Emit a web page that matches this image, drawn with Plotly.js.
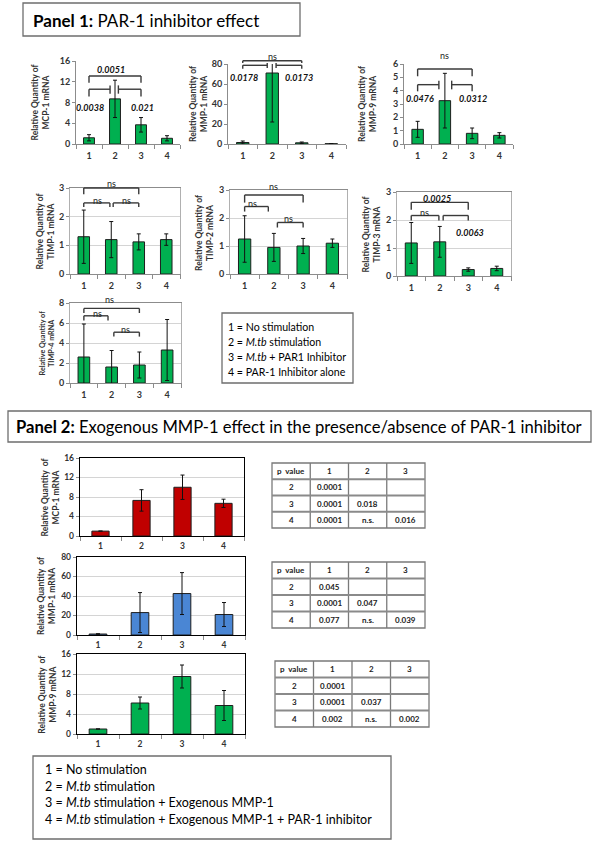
<!DOCTYPE html>
<html><head><meta charset="utf-8">
<script src="https://cdn.plot.ly/plotly-3.0.1.min.js"></script>
<style>html,body{margin:0;padding:0;background:#fff;}#chart{width:601px;height:843px;}</style>
</head><body><div id="chart"></div>
<script>
// ---------------- DATA ----------------
const categories = ['1', '2', '3', '4'];

// Panel 1
const p1_mcp1 = [1.2, 8.7, 3.7, 1.1];
const p1_mcp1_err = [0.6, 3.6, 1.4, 0.5];
const p1_mmp1 = [1.5, 71, 1.2, 0.3];
const p1_mmp1_err = [1.5, 49, 0.8, 0.2];
const p1_mmp9 = [1.1, 3.25, 0.8, 0.65];
const p1_mmp9_err = [0.6, 2.05, 0.4, 0.2];
const p1_timp1 = [1.3, 1.2, 1.12, 1.2];
const p1_timp1_err = [0.93, 0.63, 0.28, 0.2];
const p1_timp2 = [1.25, 0.95, 1.0, 1.1];
const p1_timp2_err = [0.83, 0.5, 0.27, 0.15];
const p1_timp3 = [1.18, 1.22, 0.23, 0.27];
const p1_timp3_err = [0.73, 0.55, 0.06, 0.08];
const p1_timp4 = [2.6, 1.6, 1.8, 3.3];
const p1_timp4_err = [3.3, 1.65, 1.3, 3.05];

// Panel 2
const p2_mcp1 = [1.0, 7.3, 10.0, 6.7];
const p2_mcp1_err = [0, 2.2, 2.5, 0.85];
const p2_mmp1 = [1.0, 23, 42.5, 21];
const p2_mmp1_err = [0.3, 20.5, 21.5, 12.3];
const p2_mmp9 = [1.0, 6.2, 11.5, 5.7];
const p2_mmp9_err = [0, 1.2, 2.3, 3.0];

// comparison brackets: [x0, x1, y, leftLow, leftHigh, rightLow, rightHigh]
const p1_mcp1_brackets = [[1, 3, 13.1, 11.8, 13.1, 11.8, 13.1], [1, 1.81, 10.56, 9.15, 10.56, 9.7, 11.3], [2.13, 3, 10.56, 9.7, 11.3, 9.15, 10.56]];
const p1_mcp1_labels = [['0.0051', 1.83, 14.4, 'p'], ['0.0038', 1.04, 7.05, 'p'], ['0.021', 3.05, 7.05, 'p']];
const p1_mmp1_brackets = [[1, 3, 83.3, 81, 83.3, 81, 83.3], [1, 1.83, 78.7, 75.3, 78.7, 76, 81], [2.13, 3, 78.7, 76, 81, 75.3, 78.7]];
const p1_mmp1_labels = [['ns', 2, 87, 'n'], ['0.0178', 1.04, 66.7, 'p'], ['0.0173', 2.9, 66.7, 'p']];
const p1_mmp9_brackets = [[1, 3, 5.63, 5.08, 5.63, 5.08, 5.63], [1, 1.78, 4.45, 3.95, 4.45, 4.1, 4.75], [2.25, 3, 4.45, 4.1, 4.75, 3.95, 4.45]];
const p1_mmp9_labels = [['ns', 2, 6.6, 'n'], ['0.0476', 1.09, 3.38, 'p'], ['0.0312', 3.04, 3.38, 'p']];
const p1_timp1_brackets = [[1, 3, 3.0, 2.78, 3.0, 2.78, 3.0], [1, 1.95, 2.48, 2.34, 2.48, 2.34, 2.48], [2.07, 3, 2.48, 2.34, 2.48, 2.34, 2.48]];
const p1_timp1_labels = [['ns', 2, 3.17, 'n'], ['ns', 1.49, 2.57, 'n'], ['ns', 2.56, 2.57, 'n']];
const p1_timp2_brackets = [[1, 3, 2.82, 2.55, 2.82, 2.55, 2.82], [1, 1.81, 2.41, 2.23, 2.41, 2.23, 2.41], [2.12, 3, 1.84, 1.66, 1.84, 1.66, 1.84]];
const p1_timp2_labels = [['ns', 1.99, 3.12, 'n'], ['ns', 1.26, 2.53, 'n'], ['ns', 2.49, 1.97, 'n']];
const p1_timp3_brackets = [[1, 3, 2.63, 2.37, 2.63, 2.37, 2.63], [1, 1.97, 2.16, 1.98, 2.16, 1.98, 2.16], [2.12, 3, 2.16, 1.98, 2.16, 1.98, 2.16]];
const p1_timp3_labels = [['0.0025', 1.89, 2.75, 'p'], ['ns', 1.48, 2.28, 'n'], ['0.0063', 3.05, 1.55, 'p']];
const p1_timp4_brackets = [[1, 3, 7.46, 7.0, 7.46, 7.0, 7.46], [1, 1.87, 6.72, 6.25, 6.72, 6.25, 6.72], [2.08, 3, 5.08, 4.64, 5.08, 4.64, 5.08]];
const p1_timp4_labels = [['ns', 1.93, 8.34, 'n'], ['ns', 1.49, 6.99, 'n'], ['ns', 2.51, 5.38, 'n']];

// p-value tables (columns)
const tableHeader = ['p  value', '1', '2', '3'];
const t1_rows = ['2', '3', '4'];
const t1_c1 = ['0.0001', '0.0001', '0.0001'];
const t1_c2 = ['', '0.018', 'n.s.'];
const t1_c3 = ['', '', '0.016'];
const t2_rows = ['2', '3', '4'];
const t2_c1 = ['0.045', '0.0001', '0.077'];
const t2_c2 = ['', '0.047', 'n.s.'];
const t2_c3 = ['', '', '0.039'];
const t3_rows = ['2', '3', '4'];
const t3_c1 = ['0.0001', '0.0001', '0.002'];
const t3_c2 = ['', '0.037', 'n.s.'];
const t3_c3 = ['', '', '0.002'];

const legend1 = ['1 = No stimulation', '2 = <i>M.tb</i> stimulation', '3 = <i>M.tb</i> + PAR1 Inhibitor', '4 = PAR-1 Inhibitor alone'];
const legend2 = ['1 = No stimulation', '2 = <i>M.tb</i> stimulation', '3 = <i>M.tb</i> stimulation + Exogenous MMP-1', '4 = <i>M.tb</i> stimulation + Exogenous MMP-1 + PAR-1 inhibitor'];

// ---------------- LAYOUT / STYLE ----------------
const W = 601, H = 843;
const FONT = 'Lato, "Liberation Sans", sans-serif';
const GREEN = '#00b050', RED = '#c00000', BLUE = '#4a86d4';

const charts = [
  {vals: p1_mcp1, err: p1_mcp1_err, ymax: 16, dtick: 4, box: [76, 180, 61, 144], color: GREEN, kind: 'p1a', title: ['Relative Quantity of', 'MCP-1 mRNA'], tx: 40, br: p1_mcp1_brackets, lab: p1_mcp1_labels},
  {vals: p1_mmp1, err: p1_mmp1_err, ymax: 80, dtick: 20, box: [228, 346, 64, 144], color: GREEN, kind: 'p1a', title: ['Relative Quantity of', 'MMP-1 mRNA'], tx: 198, br: p1_mmp1_brackets, lab: p1_mmp1_labels},
  {vals: p1_mmp9, err: p1_mmp9_err, ymax: 6, dtick: 1, box: [404, 513, 64, 144], color: GREEN, kind: 'p1a', title: ['Relative Quantity of', 'MMP-9 mRNA'], tx: 367, br: p1_mmp9_brackets, lab: p1_mmp9_labels},
  {vals: p1_timp1, err: p1_timp1_err, ymax: 3, dtick: 1, box: [70, 180, 188, 274], color: GREEN, kind: 'p1b', title: ['Relative Quantity of', 'TIMP-1 mRNA'], tx: 44.5, br: p1_timp1_brackets, lab: p1_timp1_labels},
  {vals: p1_timp2, err: p1_timp2_err, ymax: 3, dtick: 1, box: [230, 347, 190, 274], color: GREEN, kind: 'p1b', title: ['Relative Quantity of', 'TIMP-2 mRNA'], tx: 204, br: p1_timp2_brackets, lab: p1_timp2_labels},
  {vals: p1_timp3, err: p1_timp3_err, ymax: 3, dtick: 1, box: [397, 511, 192, 276], color: GREEN, kind: 'p1b', title: ['Relative Quantity of', 'TIMP-3 mRNA'], tx: 370.5, br: p1_timp3_brackets, lab: p1_timp3_labels},
  {vals: p1_timp4, err: p1_timp4_err, ymax: 8, dtick: 2, box: [70, 181, 303, 383], color: GREEN, kind: 'p1b', title: ['Relative Quantity of', 'TIMP-4 mRNA'], tx: 46.5, tsize: 7.2, br: p1_timp4_brackets, lab: p1_timp4_labels},
  {vals: p2_mcp1, err: p2_mcp1_err, ymax: 16, dtick: 4, box: [80, 244, 458, 536], color: RED, kind: 'p2', title: ['Relative Quantity  of', 'MCP-1 mRNA'], tx: 49.5, br: [], lab: []},
  {vals: p2_mmp1, err: p2_mmp1_err, ymax: 80, dtick: 20, box: [77, 245, 557, 635], color: BLUE, kind: 'p2', title: ['Relative Quantity  of', 'MMP-1 mRNA'], tx: 46, br: [], lab: []},
  {vals: p2_mmp9, err: p2_mmp9_err, ymax: 16, dtick: 4, box: [77, 245, 654, 734], color: GREEN, kind: 'p2', title: ['Relative Quantity  of', 'MMP-9 mRNA'], tx: 46.7, br: [], lab: []}
];

const tables = [
  {cols: [t1_rows, t1_c1, t1_c2, t1_c3], box: [272, 425, 463, 528]},
  {cols: [t2_rows, t2_c1, t2_c2, t2_c3], box: [272, 425, 562, 628]},
  {cols: [t3_rows, t3_c1, t3_c2, t3_c3], box: [275, 429, 661, 727]}
];

const data = [];
const layout = {
  width: W, height: H, margin: {l: 0, r: 0, t: 0, b: 0},
  paper_bgcolor: '#fff', plot_bgcolor: 'rgba(0,0,0,0)',
  showlegend: false, font: {family: FONT, color: '#222'},
  shapes: [], annotations: []
};

const px = x => x / W;
const py = y => 1 - y / H;

charts.forEach((c, i) => {
  const n = i + 1;
  const sfx = n === 1 ? '' : String(n);
  const p1 = c.kind !== 'p2';
  const tickFont = {family: FONT, size: p1 ? 9 : 8.5, color: '#333', weight: 'bold'};
  data.push({
    type: 'bar', x: categories, y: c.vals,
    xaxis: 'x' + sfx, yaxis: 'y' + sfx, width: 0.42,
    marker: {color: c.color, line: {color: '#1e1e1e', width: 1}},
    error_y: {type: 'data', array: c.err, visible: true, color: '#111', thickness: 1, width: 2}
  });
  layout['xaxis' + sfx] = {
    domain: [px(c.box[0]), px(c.box[1])], anchor: 'y' + sfx,
    type: 'category', range: [-0.5, 3.5], tickson: 'boundaries',
    ticks: 'outside', ticklen: 4, tickcolor: '#8c8c8c', tickwidth: 1,
    showline: true, linecolor: p1 ? '#8c8c8c' : '#000', linewidth: p1 ? 1 : 1.3,
    mirror: c.kind === 'p1a' ? false : true,
    showgrid: false, zeroline: false, tickfont: tickFont,
    ticklabelstandoff: p1 ? 3 : 1, fixedrange: true
  };
  layout['yaxis' + sfx] = {
    domain: [py(c.box[3]), py(c.box[2])], anchor: 'x' + sfx,
    range: [0, c.ymax], dtick: c.dtick, tick0: 0,
    ticks: 'outside', ticklen: 3, tickcolor: '#8c8c8c',
    showline: true, linecolor: p1 ? (c.kind === 'p1b' ? '#b0b0b0' : '#8c8c8c') : '#000', linewidth: p1 ? 1 : 1.3,
    mirror: c.kind === 'p1a' ? false : true,
    showgrid: c.kind !== 'p1a', gridcolor: '#d4d4d4', gridwidth: 1,
    zeroline: false, tickfont: tickFont, fixedrange: true
  };
  // y-title
  layout.annotations.push({
    xref: 'paper', yref: 'paper', x: px(c.tx), y: py((c.box[2] + c.box[3]) / 2),
    text: c.title.join('<br>'), textangle: -90, showarrow: false,
    xanchor: 'center', yanchor: 'middle',
    font: {family: FONT, size: c.tsize || 8.5, color: '#333', weight: 'bold'}
  });
  // brackets
  const xr = 'x' + sfx + ' domain', yr = 'y' + sfx + ' domain';
  const fx = v => (v - 0.5) / 4;
  const fy = v => v / c.ymax;
  const ln = {color: '#3a3a3a', width: 1.4};
  c.br.forEach(b => {
    layout.shapes.push({type: 'line', xref: xr, yref: yr, x0: fx(b[0]), x1: fx(b[1]), y0: fy(b[2]), y1: fy(b[2]), line: ln});
    layout.shapes.push({type: 'line', xref: xr, yref: yr, x0: fx(b[0]), x1: fx(b[0]), y0: fy(b[3]), y1: fy(b[4]), line: ln});
    layout.shapes.push({type: 'line', xref: xr, yref: yr, x0: fx(b[1]), x1: fx(b[1]), y0: fy(b[5]), y1: fy(b[6]), line: ln});
  });
  c.lab.forEach(l => {
    layout.annotations.push({
      xref: xr, yref: yr, x: fx(l[1]), y: fy(l[2]), text: l[0], showarrow: false,
      xanchor: 'center', yanchor: 'middle',
      font: l[3] === 'p' ? {family: FONT, size: 9, color: '#111', weight: 'bold', style: 'italic'}
                         : {family: FONT, size: 9, color: '#222'}
    });
  });
});

// p-value tables drawn as grid lines + cell texts
tables.forEach(t => {
  const [l, r, top, bot] = t.box;
  const nC = tableHeader.length, nR = t.cols[0].length + 1;
  const cw = (r - l) / nC, rh = (bot - top) / nR;
  const gl = {color: '#7a7a7a', width: 1.3};
  layout.shapes.push({type: 'rect', xref: 'paper', yref: 'paper', x0: px(l), x1: px(r), y0: py(bot), y1: py(top), line: gl});
  for (let c = 1; c < nC; c++) layout.shapes.push({type: 'line', xref: 'paper', yref: 'paper', x0: px(l + c * cw), x1: px(l + c * cw), y0: py(bot), y1: py(top), line: gl});
  for (let k = 1; k < nR; k++) layout.shapes.push({type: 'line', xref: 'paper', yref: 'paper', x0: px(l), x1: px(r), y0: py(top + k * rh), y1: py(top + k * rh), line: {color: '#8a8a8a', width: 1.8}});
  const cf = {family: FONT, size: 8, color: '#222', weight: 'bold'};
  tableHeader.forEach((h, c) => layout.annotations.push({xref: 'paper', yref: 'paper', x: px(l + (c + 0.5) * cw), y: py(top + 0.5 * rh), text: h, showarrow: false, xanchor: 'center', yanchor: 'middle', font: cf}));
  t.cols.forEach((col, c) => col.forEach((v, k) => {
    if (v) layout.annotations.push({xref: 'paper', yref: 'paper', x: px(l + (c + 0.5) * cw), y: py(top + (k + 1.5) * rh), text: v, showarrow: false, xanchor: 'center', yanchor: 'middle', font: cf});
  }));
});

// boxes
const boxes = [[23, 300, 3, 36], [222, 353, 313, 383], [8, 591, 411, 442], [33, 391, 756, 839]];
boxes.forEach(b => layout.shapes.push({type: 'rect', xref: 'paper', yref: 'paper',
  x0: px(b[0]), x1: px(b[1]), y0: py(b[3]), y1: py(b[2]), line: {color: '#6e6e6e', width: 1.3}}));

// panel titles
layout.annotations.push({xref: 'paper', yref: 'paper', x: px(31), y: py(20), xanchor: 'left', yanchor: 'middle', showarrow: false,
  text: '<b>Panel 1:</b> PAR-1 inhibitor effect', font: {family: FONT, size: 17, color: '#000'}});
layout.annotations.push({xref: 'paper', yref: 'paper', x: px(14), y: py(427), xanchor: 'left', yanchor: 'middle', showarrow: false,
  text: '<b>Panel 2:</b> Exogenous MMP-1 effect in the presence/absence of PAR-1 inhibitor', font: {family: FONT, size: 16.6, color: '#000'}});

// legends
const leg1Y = [326.7, 341.7, 356.7, 371.7];
legend1.forEach((t, i) => layout.annotations.push({xref: 'paper', yref: 'paper', x: px(226), y: py(leg1Y[i]), xanchor: 'left', yanchor: 'middle', showarrow: false,
  text: t, font: {family: FONT, size: 10.6, color: '#000'}}));
const leg2Y = [769, 786, 802.7, 819.3];
legend2.forEach((t, i) => layout.annotations.push({xref: 'paper', yref: 'paper', x: px(42.7), y: py(leg2Y[i]), xanchor: 'left', yanchor: 'middle', showarrow: false,
  text: t, font: {family: FONT, size: 12.5, color: '#000'}}));

Plotly.newPlot('chart', data, layout, {staticPlot: true, displayModeBar: false});
</script></body></html>
